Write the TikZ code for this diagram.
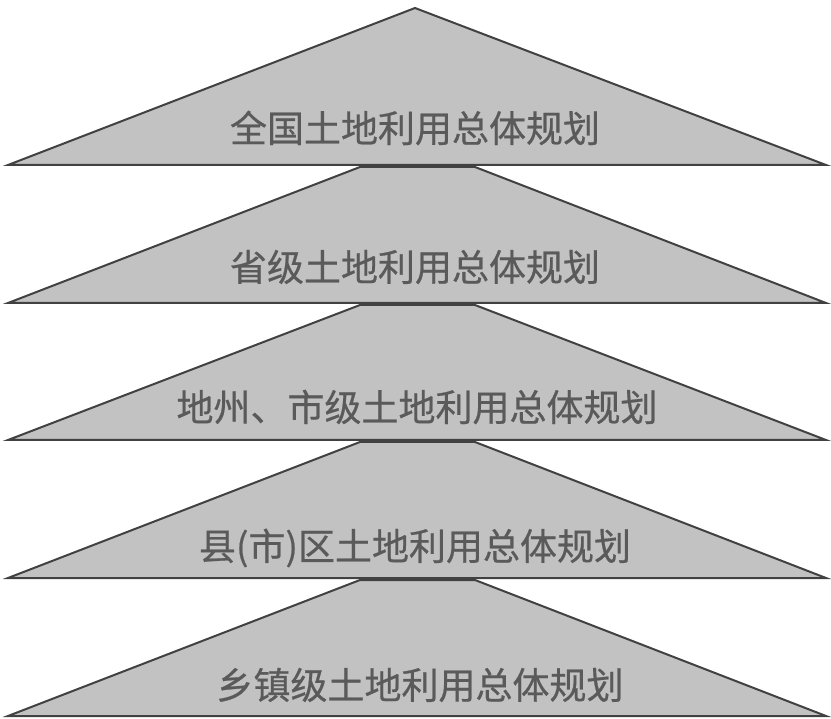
\documentclass[tikz,border=0pt]{standalone}
\usepackage{fontspec}
\newfontfamily\cjk[FakeBold=0.6]{Noto Sans CJK SC}
\definecolor{shapefill}{RGB}{194,194,194}
\definecolor{shapeline}{RGB}{65,65,65}
\definecolor{labeltext}{RGB}{90,90,90}
\begin{document}
\begin{tikzpicture}[x=1pt,y=-1pt,
  layer/.style={fill=shapefill,draw=shapeline,line width=2pt,line join=miter},
  lab/.style={font=\cjk\fontsize{37}{37}\selectfont,text=labeltext,inner sep=0pt,anchor=center}]
\useasboundingbox (0,0) rectangle (831,719);
% top triangle
\path[layer] (415,8) -- (826,165) -- (8,165) -- cycle;
% trapezoids
\path[layer] (360,167) -- (475,167) -- (826,303) -- (8,303) -- cycle;
\path[layer] (360,305) -- (475,305) -- (826,440) -- (8,440) -- cycle;
\path[layer] (360,442) -- (475,442) -- (826,578) -- (8,578) -- cycle;
\path[layer] (360,580) -- (475,580) -- (826,716) -- (8,716) -- cycle;
\node[lab] (l1) at (415,128) {全国土地利用总体规划};
\node[lab] (l2) at (415,267) {省级土地利用总体规划};
\node[lab] (l3) at (417,407) {地州、市级土地利用总体规划};
\node[lab] (l4) at (415,548) {县(市)区土地利用总体规划};
\node[lab] (l5) at (420,685) {乡镇级土地利用总体规划};
\end{tikzpicture}
\end{document}
